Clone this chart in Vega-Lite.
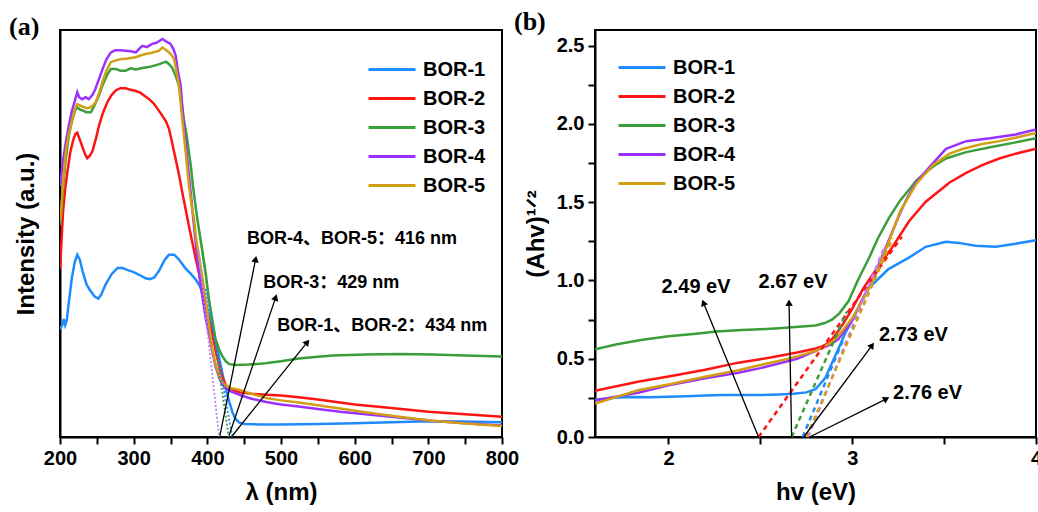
{
  "$schema": "https://vega.github.io/schema/vega-lite/v6.json",
  "background": "white",
  "padding": {"left": 8, "top": 8, "right": 0, "bottom": 0},
  "bounds": "flush",
  "spacing": 93,
  "config": {
    "font": "Liberation Sans",
    "view": {"stroke": "black", "strokeWidth": 2},
    "axis": {"domainColor": "black", "domainWidth": 2, "tickColor": "black", "tickWidth": 2, "tickSize": 7,
      "labelFont": "Liberation Sans", "labelFontSize": 20, "labelFontWeight": "bold", "labelColor": "black",
      "titleFont": "Liberation Sans", "titleFontSize": 24, "titleFontWeight": "bold", "titleColor": "black",
      "grid": false, "labelPadding": 4, "labelFlush": false, "labelOverlap": false, "labelBound": false},
    "legend": {"labelFont": "Liberation Sans", "labelFontSize": 20, "labelFontWeight": "bold", "labelColor": "black",
      "symbolType": "M-2.35,0H2.35", "symbolStrokeWidth": 3, "symbolSize": 400, "rowPadding": 7, "labelOffset": 19.5, "padding": 0}
  },
  "resolve": {"legend": {"color": "independent"}},
  "datasets": {
    "a": [
      {"series":"BOR-1","x":200,"y":26.5},{"series":"BOR-1","x":203,"y":27.5},{"series":"BOR-1","x":205,"y":29},{"series":"BOR-1","x":207,"y":27.5},{"series":"BOR-1","x":209,"y":28.5},{"series":"BOR-1","x":212,"y":33},{"series":"BOR-1","x":216,"y":39},{"series":"BOR-1","x":220,"y":43},{"series":"BOR-1","x":223.5,"y":44.8},{"series":"BOR-1","x":227,"y":43.5},{"series":"BOR-1","x":231,"y":40.5},{"series":"BOR-1","x":236,"y":37.5},{"series":"BOR-1","x":241,"y":36},{"series":"BOR-1","x":247,"y":34.5},{"series":"BOR-1","x":252,"y":34},{"series":"BOR-1","x":256,"y":35},{"series":"BOR-1","x":262,"y":37.5},{"series":"BOR-1","x":270,"y":40},{"series":"BOR-1","x":278,"y":41.5},{"series":"BOR-1","x":285,"y":41.5},{"series":"BOR-1","x":292,"y":41},{"series":"BOR-1","x":300,"y":40.5},{"series":"BOR-1","x":308,"y":39.8},{"series":"BOR-1","x":316,"y":39},{"series":"BOR-1","x":322,"y":38.8},{"series":"BOR-1","x":328,"y":39.2},{"series":"BOR-1","x":335,"y":41},{"series":"BOR-1","x":342,"y":43.5},{"series":"BOR-1","x":348,"y":44.8},{"series":"BOR-1","x":355,"y":44.8},{"series":"BOR-1","x":362,"y":43.5},{"series":"BOR-1","x":370,"y":41.5},{"series":"BOR-1","x":378,"y":40},{"series":"BOR-1","x":385,"y":38.5},{"series":"BOR-1","x":390,"y":37},{"series":"BOR-1","x":395,"y":34.5},{"series":"BOR-1","x":400,"y":31.5},{"series":"BOR-1","x":405,"y":28},{"series":"BOR-1","x":410,"y":24.5},{"series":"BOR-1","x":416,"y":19.5},{"series":"BOR-1","x":420,"y":16},{"series":"BOR-1","x":425,"y":11.8},{"series":"BOR-1","x":430,"y":8.5},{"series":"BOR-1","x":434,"y":6.1},{"series":"BOR-1","x":438,"y":4.5},{"series":"BOR-1","x":443,"y":3.6},{"series":"BOR-1","x":450,"y":3.2},{"series":"BOR-1","x":470,"y":3.1},{"series":"BOR-1","x":500,"y":3.1},{"series":"BOR-1","x":550,"y":3.2},{"series":"BOR-1","x":600,"y":3.4},{"series":"BOR-1","x":650,"y":3.6},{"series":"BOR-1","x":700,"y":3.9},{"series":"BOR-1","x":750,"y":3.8},{"series":"BOR-1","x":800,"y":3.6},
      {"series":"BOR-2","x":200,"y":41.3},{"series":"BOR-2","x":202,"y":48},{"series":"BOR-2","x":204,"y":55},{"series":"BOR-2","x":207,"y":61},{"series":"BOR-2","x":210,"y":65},{"series":"BOR-2","x":214,"y":70},{"series":"BOR-2","x":218,"y":73},{"series":"BOR-2","x":221,"y":74.5},{"series":"BOR-2","x":223.5,"y":74.8},{"series":"BOR-2","x":226,"y":73.5},{"series":"BOR-2","x":230,"y":71.5},{"series":"BOR-2","x":234,"y":69.5},{"series":"BOR-2","x":237,"y":68.5},{"series":"BOR-2","x":240,"y":69},{"series":"BOR-2","x":244,"y":70.2},{"series":"BOR-2","x":249,"y":73.5},{"series":"BOR-2","x":253,"y":76.5},{"series":"BOR-2","x":258,"y":79.5},{"series":"BOR-2","x":264,"y":82.2},{"series":"BOR-2","x":270,"y":84},{"series":"BOR-2","x":276,"y":85.2},{"series":"BOR-2","x":282,"y":85.7},{"series":"BOR-2","x":289,"y":85.7},{"series":"BOR-2","x":296,"y":85.3},{"series":"BOR-2","x":303,"y":85},{"series":"BOR-2","x":309,"y":84.6},{"series":"BOR-2","x":315,"y":83.8},{"series":"BOR-2","x":321,"y":83},{"series":"BOR-2","x":327,"y":82},{"series":"BOR-2","x":333,"y":80.5},{"series":"BOR-2","x":339,"y":78.9},{"series":"BOR-2","x":344,"y":77.5},{"series":"BOR-2","x":348,"y":75.7},{"series":"BOR-2","x":352,"y":72.5},{"series":"BOR-2","x":357,"y":68.3},{"series":"BOR-2","x":362,"y":64},{"series":"BOR-2","x":366,"y":60.1},{"series":"BOR-2","x":371,"y":55.5},{"series":"BOR-2","x":375,"y":51.9},{"series":"BOR-2","x":380,"y":47.5},{"series":"BOR-2","x":384,"y":44},{"series":"BOR-2","x":389,"y":40},{"series":"BOR-2","x":395,"y":34},{"series":"BOR-2","x":401,"y":29.5},{"series":"BOR-2","x":407,"y":25.2},{"series":"BOR-2","x":412,"y":20.5},{"series":"BOR-2","x":416,"y":17.5},{"series":"BOR-2","x":420,"y":15},{"series":"BOR-2","x":425,"y":12.8},{"series":"BOR-2","x":432,"y":11.8},{"series":"BOR-2","x":443,"y":11},{"series":"BOR-2","x":460,"y":10.6},{"series":"BOR-2","x":480,"y":10.4},{"series":"BOR-2","x":500,"y":10.2},{"series":"BOR-2","x":524,"y":9.75},{"series":"BOR-2","x":550,"y":9.2},{"series":"BOR-2","x":600,"y":8},{"series":"BOR-2","x":650,"y":7.1},{"series":"BOR-2","x":700,"y":6.2},{"series":"BOR-2","x":750,"y":5.6},{"series":"BOR-2","x":800,"y":5},
      {"series":"BOR-3","x":200,"y":52},{"series":"BOR-3","x":202,"y":56},{"series":"BOR-3","x":205,"y":63},{"series":"BOR-3","x":208,"y":68.5},{"series":"BOR-3","x":212,"y":74},{"series":"BOR-3","x":216,"y":77.5},{"series":"BOR-3","x":220,"y":80},{"series":"BOR-3","x":223.5,"y":81},{"series":"BOR-3","x":227,"y":80.5},{"series":"BOR-3","x":231,"y":80.2},{"series":"BOR-3","x":236,"y":79.8},{"series":"BOR-3","x":242,"y":79.8},{"series":"BOR-3","x":247,"y":81.5},{"series":"BOR-3","x":253,"y":84},{"series":"BOR-3","x":258,"y":86.5},{"series":"BOR-3","x":264,"y":89},{"series":"BOR-3","x":269,"y":90.4},{"series":"BOR-3","x":276,"y":90.4},{"series":"BOR-3","x":282,"y":90},{"series":"BOR-3","x":289,"y":90},{"series":"BOR-3","x":296,"y":90.6},{"series":"BOR-3","x":303,"y":90.3},{"series":"BOR-3","x":310,"y":90.6},{"series":"BOR-3","x":316,"y":90.8},{"series":"BOR-3","x":323,"y":91},{"series":"BOR-3","x":329,"y":91.3},{"series":"BOR-3","x":335,"y":91.6},{"series":"BOR-3","x":340,"y":92},{"series":"BOR-3","x":344,"y":92.2},{"series":"BOR-3","x":348,"y":91.6},{"series":"BOR-3","x":352,"y":90.8},{"series":"BOR-3","x":357,"y":88.8},{"series":"BOR-3","x":361.5,"y":86.3},{"series":"BOR-3","x":365,"y":82.5},{"series":"BOR-3","x":368,"y":78.1},{"series":"BOR-3","x":372,"y":74},{"series":"BOR-3","x":375,"y":70},{"series":"BOR-3","x":378,"y":66},{"series":"BOR-3","x":380.5,"y":61.7},{"series":"BOR-3","x":383.5,"y":57.5},{"series":"BOR-3","x":386.4,"y":53.6},{"series":"BOR-3","x":390,"y":49.5},{"series":"BOR-3","x":393,"y":46},{"series":"BOR-3","x":398,"y":40},{"series":"BOR-3","x":402,"y":34},{"series":"BOR-3","x":407,"y":28.5},{"series":"BOR-3","x":411,"y":24.1},{"series":"BOR-3","x":416,"y":21.5},{"series":"BOR-3","x":420,"y":20},{"series":"BOR-3","x":425,"y":18.6},{"series":"BOR-3","x":430,"y":17.9},{"series":"BOR-3","x":440,"y":17.7},{"series":"BOR-3","x":456,"y":17.8},{"series":"BOR-3","x":479,"y":18.1},{"series":"BOR-3","x":500,"y":18.6},{"series":"BOR-3","x":524,"y":19.3},{"series":"BOR-3","x":550,"y":19.7},{"series":"BOR-3","x":570,"y":20},{"series":"BOR-3","x":615,"y":20.3},{"series":"BOR-3","x":660,"y":20.4},{"series":"BOR-3","x":705,"y":20.3},{"series":"BOR-3","x":750,"y":20},{"series":"BOR-3","x":800,"y":19.8},
      {"series":"BOR-4","x":200,"y":61.7},{"series":"BOR-4","x":202,"y":64.5},{"series":"BOR-4","x":205,"y":69},{"series":"BOR-4","x":208,"y":72.5},{"series":"BOR-4","x":212,"y":76.5},{"series":"BOR-4","x":216,"y":80},{"series":"BOR-4","x":220,"y":82.5},{"series":"BOR-4","x":223.5,"y":84.7},{"series":"BOR-4","x":226,"y":83.5},{"series":"BOR-4","x":230,"y":83},{"series":"BOR-4","x":235,"y":83.5},{"series":"BOR-4","x":239,"y":83},{"series":"BOR-4","x":244,"y":84},{"series":"BOR-4","x":248,"y":85.5},{"series":"BOR-4","x":253,"y":88},{"series":"BOR-4","x":258,"y":90.5},{"series":"BOR-4","x":263,"y":92.8},{"series":"BOR-4","x":269,"y":94.5},{"series":"BOR-4","x":275,"y":95},{"series":"BOR-4","x":282,"y":95},{"series":"BOR-4","x":289,"y":94.9},{"series":"BOR-4","x":296,"y":94.8},{"series":"BOR-4","x":303,"y":94.5},{"series":"BOR-4","x":308,"y":95.5},{"series":"BOR-4","x":312,"y":96.1},{"series":"BOR-4","x":318,"y":95.8},{"series":"BOR-4","x":325,"y":96.6},{"series":"BOR-4","x":330,"y":96.8},{"series":"BOR-4","x":335,"y":97.3},{"series":"BOR-4","x":339,"y":97.8},{"series":"BOR-4","x":343,"y":97.3},{"series":"BOR-4","x":347,"y":96.9},{"series":"BOR-4","x":350,"y":96.6},{"series":"BOR-4","x":354,"y":95.3},{"series":"BOR-4","x":357,"y":93.7},{"series":"BOR-4","x":360,"y":90},{"series":"BOR-4","x":363.8,"y":86.3},{"series":"BOR-4","x":366,"y":81},{"series":"BOR-4","x":368.3,"y":76.5},{"series":"BOR-4","x":372.8,"y":68.3},{"series":"BOR-4","x":377.4,"y":60.1},{"series":"BOR-4","x":381.9,"y":51.9},{"series":"BOR-4","x":386.4,"y":43.7},{"series":"BOR-4","x":392,"y":36},{"series":"BOR-4","x":398,"y":29},{"series":"BOR-4","x":402,"y":25.5},{"series":"BOR-4","x":407,"y":20.8},{"series":"BOR-4","x":411,"y":17.5},{"series":"BOR-4","x":416,"y":14.6},{"series":"BOR-4","x":420,"y":13},{"series":"BOR-4","x":425,"y":12},{"series":"BOR-4","x":432,"y":11.2},{"series":"BOR-4","x":443,"y":10.4},{"series":"BOR-4","x":447.5,"y":10.1},{"series":"BOR-4","x":460,"y":9.4},{"series":"BOR-4","x":480,"y":8.6},{"series":"BOR-4","x":500,"y":8},{"series":"BOR-4","x":524,"y":7.5},{"series":"BOR-4","x":550,"y":6.9},{"series":"BOR-4","x":580,"y":6.2},{"series":"BOR-4","x":615,"y":5.6},{"series":"BOR-4","x":660,"y":4.8},{"series":"BOR-4","x":705,"y":4},{"series":"BOR-4","x":750,"y":3.4},{"series":"BOR-4","x":800,"y":2.8},
      {"series":"BOR-5","x":200,"y":53},{"series":"BOR-5","x":201,"y":54.4},{"series":"BOR-5","x":204,"y":62},{"series":"BOR-5","x":207.7,"y":70},{"series":"BOR-5","x":212,"y":74.5},{"series":"BOR-5","x":216.7,"y":78.1},{"series":"BOR-5","x":220,"y":80.5},{"series":"BOR-5","x":223.5,"y":81.8},{"series":"BOR-5","x":227,"y":81.5},{"series":"BOR-5","x":230.3,"y":81.2},{"series":"BOR-5","x":236,"y":80.8},{"series":"BOR-5","x":241.6,"y":81},{"series":"BOR-5","x":245,"y":81.5},{"series":"BOR-5","x":248.4,"y":82.2},{"series":"BOR-5","x":253,"y":84.5},{"series":"BOR-5","x":257.4,"y":87.1},{"series":"BOR-5","x":263,"y":90},{"series":"BOR-5","x":268.8,"y":92.1},{"series":"BOR-5","x":277,"y":92.6},{"series":"BOR-5","x":284.6,"y":92.9},{"series":"BOR-5","x":292,"y":93},{"series":"BOR-5","x":302.8,"y":93.3},{"series":"BOR-5","x":310,"y":93.8},{"series":"BOR-5","x":316.3,"y":94.1},{"series":"BOR-5","x":325,"y":94.4},{"series":"BOR-5","x":334.4,"y":94.9},{"series":"BOR-5","x":338.9,"y":95.7},{"series":"BOR-5","x":343,"y":95.2},{"series":"BOR-5","x":348,"y":94.5},{"series":"BOR-5","x":351,"y":93.9},{"series":"BOR-5","x":354.8,"y":92.9},{"series":"BOR-5","x":358,"y":90},{"series":"BOR-5","x":361.5,"y":86.3},{"series":"BOR-5","x":366,"y":78.1},{"series":"BOR-5","x":370.6,"y":70},{"series":"BOR-5","x":375.1,"y":61.7},{"series":"BOR-5","x":379,"y":56.5},{"series":"BOR-5","x":381.9,"y":53.6},{"series":"BOR-5","x":385,"y":48.5},{"series":"BOR-5","x":388.7,"y":44.5},{"series":"BOR-5","x":393,"y":39.5},{"series":"BOR-5","x":397.8,"y":33.9},{"series":"BOR-5","x":402,"y":28},{"series":"BOR-5","x":406.7,"y":21.6},{"series":"BOR-5","x":411,"y":18},{"series":"BOR-5","x":415.8,"y":15.1},{"series":"BOR-5","x":420,"y":13.6},{"series":"BOR-5","x":425,"y":12.6},{"series":"BOR-5","x":432,"y":12},{"series":"BOR-5","x":443,"y":11.6},{"series":"BOR-5","x":447.5,"y":11.4},{"series":"BOR-5","x":460,"y":10.6},{"series":"BOR-5","x":480,"y":9.6},{"series":"BOR-5","x":500,"y":9},{"series":"BOR-5","x":524,"y":8.5},{"series":"BOR-5","x":550,"y":7.8},{"series":"BOR-5","x":580,"y":7},{"series":"BOR-5","x":615,"y":6.1},{"series":"BOR-5","x":660,"y":5},{"series":"BOR-5","x":705,"y":4},{"series":"BOR-5","x":750,"y":3.3},{"series":"BOR-5","x":800,"y":2.7}
    ],
    "aTan": [
      {"series":"BOR-4","x":388,"y":46},{"series":"BOR-4","x":416,"y":0},
      {"series":"BOR-3","x":390,"y":49},{"series":"BOR-3","x":429,"y":0},
      {"series":"BOR-1","x":397.8,"y":36.4},{"series":"BOR-1","x":434,"y":0}
    ],
    "aArr": [
      {"x":417,"y":0.3,"x2":465.6,"y2":43.7},
      {"x":429.4,"y":0.3,"x2":492.8,"y2":34.3},
      {"x":433.9,"y":0.3,"x2":535.7,"y2":23.3}
    ],
    "aLab": [
      {"text":"BOR-4、BOR-5：416 nm","x":453.8,"y":48.6},
      {"text":"BOR-3：429 nm","x":476,"y":37.8},
      {"text":"BOR-1、BOR-2：434 nm","x":495,"y":27.3}
    ],
    "b": [
      {"series":"BOR-1","x":1.6,"y":0.238},{"series":"BOR-1","x":1.7,"y":0.25},{"series":"BOR-1","x":1.8,"y":0.255},{"series":"BOR-1","x":1.9,"y":0.254},{"series":"BOR-1","x":2.0,"y":0.257},{"series":"BOR-1","x":2.1,"y":0.26},{"series":"BOR-1","x":2.2,"y":0.265},{"series":"BOR-1","x":2.3,"y":0.268},{"series":"BOR-1","x":2.4,"y":0.268},{"series":"BOR-1","x":2.5,"y":0.268},{"series":"BOR-1","x":2.6,"y":0.272},{"series":"BOR-1","x":2.68,"y":0.276},{"series":"BOR-1","x":2.75,"y":0.285},{"series":"BOR-1","x":2.8,"y":0.305},{"series":"BOR-1","x":2.853,"y":0.377},{"series":"BOR-1","x":2.908,"y":0.52},{"series":"BOR-1","x":2.962,"y":0.663},{"series":"BOR-1","x":3.016,"y":0.786},{"series":"BOR-1","x":3.089,"y":0.95},{"series":"BOR-1","x":3.197,"y":1.073},{"series":"BOR-1","x":3.306,"y":1.144},{"series":"BOR-1","x":3.4,"y":1.215},{"series":"BOR-1","x":3.51,"y":1.247},{"series":"BOR-1","x":3.58,"y":1.24},{"series":"BOR-1","x":3.67,"y":1.222},{"series":"BOR-1","x":3.78,"y":1.215},{"series":"BOR-1","x":3.89,"y":1.235},{"series":"BOR-1","x":4.0,"y":1.257},
      {"series":"BOR-2","x":1.6,"y":0.295},{"series":"BOR-2","x":1.84,"y":0.355},{"series":"BOR-2","x":2.0,"y":0.387},{"series":"BOR-2","x":2.2,"y":0.43},{"series":"BOR-2","x":2.38,"y":0.475},{"series":"BOR-2","x":2.5,"y":0.497},{"series":"BOR-2","x":2.6,"y":0.518},{"series":"BOR-2","x":2.7,"y":0.54},{"series":"BOR-2","x":2.8,"y":0.565},{"series":"BOR-2","x":2.84,"y":0.58},{"series":"BOR-2","x":2.88,"y":0.61},{"series":"BOR-2","x":2.92,"y":0.67},{"series":"BOR-2","x":2.96,"y":0.74},{"series":"BOR-2","x":3.0,"y":0.82},{"series":"BOR-2","x":3.06,"y":0.95},{"series":"BOR-2","x":3.13,"y":1.07},{"series":"BOR-2","x":3.22,"y":1.216},{"series":"BOR-2","x":3.31,"y":1.38},{"series":"BOR-2","x":3.4,"y":1.503},{"series":"BOR-2","x":3.53,"y":1.626},{"series":"BOR-2","x":3.62,"y":1.687},{"series":"BOR-2","x":3.71,"y":1.738},{"series":"BOR-2","x":3.8,"y":1.779},{"series":"BOR-2","x":3.89,"y":1.81},{"series":"BOR-2","x":4.0,"y":1.841},
      {"series":"BOR-3","x":1.6,"y":0.561},{"series":"BOR-3","x":1.72,"y":0.592},{"series":"BOR-3","x":1.85,"y":0.62},{"series":"BOR-3","x":2.0,"y":0.643},{"series":"BOR-3","x":2.15,"y":0.66},{"series":"BOR-3","x":2.26,"y":0.674},{"series":"BOR-3","x":2.4,"y":0.683},{"series":"BOR-3","x":2.5,"y":0.688},{"series":"BOR-3","x":2.6,"y":0.695},{"series":"BOR-3","x":2.71,"y":0.705},{"series":"BOR-3","x":2.8,"y":0.713},{"series":"BOR-3","x":2.85,"y":0.728},{"series":"BOR-3","x":2.89,"y":0.75},{"series":"BOR-3","x":2.93,"y":0.79},{"series":"BOR-3","x":2.98,"y":0.868},{"series":"BOR-3","x":3.03,"y":1.0},{"series":"BOR-3","x":3.09,"y":1.14},{"series":"BOR-3","x":3.14,"y":1.27},{"series":"BOR-3","x":3.2,"y":1.4},{"series":"BOR-3","x":3.26,"y":1.51},{"series":"BOR-3","x":3.35,"y":1.64},{"series":"BOR-3","x":3.44,"y":1.728},{"series":"BOR-3","x":3.51,"y":1.779},{"series":"BOR-3","x":3.62,"y":1.82},{"series":"BOR-3","x":3.75,"y":1.851},{"series":"BOR-3","x":3.89,"y":1.882},{"series":"BOR-3","x":4.0,"y":1.908},
      {"series":"BOR-4","x":1.6,"y":0.233},{"series":"BOR-4","x":1.84,"y":0.284},{"series":"BOR-4","x":2.0,"y":0.33},{"series":"BOR-4","x":2.2,"y":0.375},{"series":"BOR-4","x":2.38,"y":0.41},{"series":"BOR-4","x":2.5,"y":0.44},{"series":"BOR-4","x":2.6,"y":0.47},{"series":"BOR-4","x":2.7,"y":0.5},{"series":"BOR-4","x":2.82,"y":0.56},{"series":"BOR-4","x":2.88,"y":0.59},{"series":"BOR-4","x":2.925,"y":0.625},{"series":"BOR-4","x":2.96,"y":0.68},{"series":"BOR-4","x":3.0,"y":0.745},{"series":"BOR-4","x":3.05,"y":0.868},{"series":"BOR-4","x":3.1,"y":0.98},{"series":"BOR-4","x":3.15,"y":1.12},{"series":"BOR-4","x":3.2,"y":1.26},{"series":"BOR-4","x":3.26,"y":1.43},{"series":"BOR-4","x":3.3,"y":1.53},{"series":"BOR-4","x":3.35,"y":1.63},{"series":"BOR-4","x":3.44,"y":1.75},{"series":"BOR-4","x":3.51,"y":1.841},{"series":"BOR-4","x":3.62,"y":1.89},{"series":"BOR-4","x":3.75,"y":1.908},{"series":"BOR-4","x":3.89,"y":1.933},{"series":"BOR-4","x":4.0,"y":1.964},
      {"series":"BOR-5","x":1.6,"y":0.213},{"series":"BOR-5","x":1.84,"y":0.3},{"series":"BOR-5","x":2.0,"y":0.336},{"series":"BOR-5","x":2.2,"y":0.385},{"series":"BOR-5","x":2.38,"y":0.426},{"series":"BOR-5","x":2.5,"y":0.46},{"series":"BOR-5","x":2.6,"y":0.485},{"series":"BOR-5","x":2.7,"y":0.515},{"series":"BOR-5","x":2.8,"y":0.55},{"series":"BOR-5","x":2.835,"y":0.57},{"series":"BOR-5","x":2.88,"y":0.6},{"series":"BOR-5","x":2.92,"y":0.64},{"series":"BOR-5","x":2.96,"y":0.7},{"series":"BOR-5","x":3.0,"y":0.76},{"series":"BOR-5","x":3.05,"y":0.86},{"series":"BOR-5","x":3.1,"y":0.97},{"series":"BOR-5","x":3.15,"y":1.1},{"series":"BOR-5","x":3.2,"y":1.25},{"series":"BOR-5","x":3.26,"y":1.44},{"series":"BOR-5","x":3.35,"y":1.62},{"series":"BOR-5","x":3.44,"y":1.738},{"series":"BOR-5","x":3.53,"y":1.81},{"series":"BOR-5","x":3.6,"y":1.84},{"series":"BOR-5","x":3.7,"y":1.87},{"series":"BOR-5","x":3.8,"y":1.89},{"series":"BOR-5","x":3.9,"y":1.915},{"series":"BOR-5","x":4.0,"y":1.943}
    ],
    "bTan": [
      {"series":"BOR-2","x":2.49,"y":0},{"series":"BOR-2","x":3.27,"y":1.28},
      {"series":"BOR-3","x":2.67,"y":0},{"series":"BOR-3","x":2.97,"y":0.8},
      {"series":"BOR-1","x":2.73,"y":0},{"series":"BOR-1","x":2.95,"y":0.62},
      {"series":"BOR-4","x":2.76,"y":0},{"series":"BOR-4","x":3.17,"y":1.2},
      {"series":"BOR-5","x":2.75,"y":0},{"series":"BOR-5","x":3.22,"y":1.27}
    ],
    "bArr": [
      {"x":2.49,"y":0,"x2":2.19,"y2":0.858},
      {"x":2.67,"y":0,"x2":2.656,"y2":0.858},
      {"x":2.736,"y":0,"x2":3.108,"y2":0.586},
      {"x":2.768,"y":0,"x2":3.186,"y2":0.244}
    ],
    "bLab": [
      {"text":"2.49 eV","x":2.15,"y":0.96},
      {"text":"2.67 eV","x":2.678,"y":0.99},
      {"text":"2.73 eV","x":3.333,"y":0.653},
      {"text":"2.76 eV","x":3.41,"y":0.278}
    ]
  },
  "hconcat": [
    {
      "width": 442,
      "height": 407,
      "title": {"text": "(a)", "anchor": "start", "frame": "group", "dx": -51, "offset": -36, "baseline": "bottom", "font": "Liberation Serif", "fontSize": 26, "fontWeight": "bold", "color": "black"},
      "layer": [
        {
          "data": {"name": "a"},
          "mark": {"type": "line", "strokeWidth": 2.5, "clip": true},
          "encoding": {
            "x": {"field": "x", "type": "quantitative", "scale": {"domain": [200, 800]},
              "axis": {"title": "λ (nm)", "values": [200,250,300,350,400,450,500,550,600,650,700,750,800], "labelExpr": "datum.value % 100 == 0 ? datum.label : ''", "titlePadding": 12}},
            "y": {"field": "y", "type": "quantitative", "scale": {"domain": [0, 100]},
              "axis": {"title": "Intensity (a.u.)", "labels": false, "ticks": false, "titlePadding": 22}},
            "color": {"field": "series", "type": "nominal",
              "scale": {"domain": ["BOR-1","BOR-2","BOR-3","BOR-4","BOR-5"], "range": ["#1E8CFF","#FF1414","#3A9E3A","#9B30FF","#D19E14"]},
              "legend": {"orient": "none", "legendX": 320.5, "legendY": 28, "title": null}}
          }
        },
        {
          "data": {"name": "aTan"},
          "mark": {"type": "line", "strokeWidth": 1.8, "strokeDash": [2, 2]},
          "encoding": {
            "x": {"field": "x", "type": "quantitative",
              "axis": {"title": "λ (nm)", "values": [200,250,300,350,400,450,500,550,600,650,700,750,800], "labelExpr": "datum.value % 100 == 0 ? datum.label : ''", "titlePadding": 12}},
            "y": {"field": "y", "type": "quantitative",
              "axis": {"title": "Intensity (a.u.)", "labels": false, "ticks": false, "titlePadding": 22}},
            "detail": {"field": "series"},
            "stroke": {"field": "series", "type": "nominal",
              "scale": {"domain": ["BOR-1","BOR-2","BOR-3","BOR-4","BOR-5"], "range": ["#1E8CFF","#FF1414","#3A9E3A","#C080FF","#D19E14"]}, "legend": null}
          }
        },
        {
          "data": {"name": "aArr"},
          "mark": {"type": "rule", "color": "black", "strokeWidth": 1.3},
          "encoding": {
            "x": {"field": "x", "type": "quantitative",
              "axis": {"title": "λ (nm)", "values": [200,250,300,350,400,450,500,550,600,650,700,750,800], "labelExpr": "datum.value % 100 == 0 ? datum.label : ''", "titlePadding": 12}},
            "y": {"field": "y", "type": "quantitative",
              "axis": {"title": "Intensity (a.u.)", "labels": false, "ticks": false, "titlePadding": 22}},
            "x2": {"field": "x2"},
            "y2": {"field": "y2"}
          }
        },
        {
          "data": {"name": "aArr"},
          "transform": [{"calculate": "atan2((datum.x2 - datum.x) * 0.7367, (datum.y2 - datum.y) * 4.07) * 180 / PI", "as": "angle"}],
          "mark": {"type": "point", "shape": "triangle-up", "filled": true, "color": "black", "size": 55, "opacity": 1},
          "encoding": {
            "x": {"field": "x2", "type": "quantitative",
              "axis": {"title": "λ (nm)", "values": [200,250,300,350,400,450,500,550,600,650,700,750,800], "labelExpr": "datum.value % 100 == 0 ? datum.label : ''", "titlePadding": 12}},
            "y": {"field": "y2", "type": "quantitative",
              "axis": {"title": "Intensity (a.u.)", "labels": false, "ticks": false, "titlePadding": 22}},
            "angle": {"field": "angle", "type": "quantitative", "scale": null}
          }
        },
        {
          "data": {"name": "aLab"},
          "mark": {"type": "text", "align": "left", "baseline": "middle", "font": "Liberation Sans, Noto Sans CJK SC", "fontSize": 18, "fontWeight": "bold", "color": "black"},
          "encoding": {
            "x": {"field": "x", "type": "quantitative",
              "axis": {"title": "λ (nm)", "values": [200,250,300,350,400,450,500,550,600,650,700,750,800], "labelExpr": "datum.value % 100 == 0 ? datum.label : ''", "titlePadding": 12}},
            "y": {"field": "y", "type": "quantitative",
              "axis": {"title": "Intensity (a.u.)", "labels": false, "ticks": false, "titlePadding": 22}},
            "text": {"field": "text"}
          }
        }
      ]
    },
    {
      "width": 441,
      "height": 407,
      "title": {"text": "(b)", "anchor": "start", "frame": "group", "dx": -81, "offset": -31, "baseline": "bottom", "font": "Liberation Serif", "fontSize": 26, "fontWeight": "bold", "color": "black"},
      "layer": [
        {
          "data": {"name": "b"},
          "mark": {"type": "line", "strokeWidth": 2.5, "clip": true},
          "encoding": {
            "x": {"field": "x", "type": "quantitative", "scale": {"domain": [1.6, 4]},
              "axis": {"title": "hv (eV)", "values": [2, 2.5, 3, 3.5, 4], "format": ".0f", "labelExpr": "datum.value % 1 == 0 ? datum.label : ''", "titlePadding": 12}},
            "y": {"field": "y", "type": "quantitative", "scale": {"domain": [0, 2.5]},
              "axis": {"title": "(Ahv)¹ᐟ²", "values": [0,0.25,0.5,0.75,1,1.25,1.5,1.75,2,2.25,2.5], "format": ".1f", "labelExpr": "round(datum.value * 4) % 2 == 0 ? datum.label : ''", "titlePadding": 8}},
            "color": {"field": "series", "type": "nominal",
              "scale": {"domain": ["BOR-1","BOR-2","BOR-3","BOR-4","BOR-5"], "range": ["#1E8CFF","#FF1414","#3A9E3A","#9B30FF","#D19E14"]},
              "legend": {"orient": "none", "legendX": 35.5, "legendY": 26, "title": null}}
          }
        },
        {
          "data": {"name": "bTan"},
          "mark": {"type": "line", "strokeWidth": 2.5, "strokeDash": [5, 4]},
          "encoding": {
            "x": {"field": "x", "type": "quantitative",
              "axis": {"title": "hv (eV)", "values": [2, 2.5, 3, 3.5, 4], "format": ".0f", "labelExpr": "datum.value % 1 == 0 ? datum.label : ''", "titlePadding": 12}},
            "y": {"field": "y", "type": "quantitative",
              "axis": {"title": "(Ahv)¹ᐟ²", "values": [0,0.25,0.5,0.75,1,1.25,1.5,1.75,2,2.25,2.5], "format": ".1f", "labelExpr": "round(datum.value * 4) % 2 == 0 ? datum.label : ''", "titlePadding": 8}},
            "detail": {"field": "series"},
            "stroke": {"field": "series", "type": "nominal",
              "scale": {"domain": ["BOR-1","BOR-2","BOR-3","BOR-4","BOR-5"], "range": ["#1E8CFF","#FF1414","#3A9E3A","#9B30FF","#D19E14"]}, "legend": null}
          }
        },
        {
          "data": {"name": "bArr"},
          "mark": {"type": "rule", "color": "black", "strokeWidth": 1.3},
          "encoding": {
            "x": {"field": "x", "type": "quantitative",
              "axis": {"title": "hv (eV)", "values": [2, 2.5, 3, 3.5, 4], "format": ".0f", "labelExpr": "datum.value % 1 == 0 ? datum.label : ''", "titlePadding": 12}},
            "y": {"field": "y", "type": "quantitative",
              "axis": {"title": "(Ahv)¹ᐟ²", "values": [0,0.25,0.5,0.75,1,1.25,1.5,1.75,2,2.25,2.5], "format": ".1f", "labelExpr": "round(datum.value * 4) % 2 == 0 ? datum.label : ''", "titlePadding": 8}},
            "x2": {"field": "x2"},
            "y2": {"field": "y2"}
          }
        },
        {
          "data": {"name": "bArr"},
          "transform": [{"calculate": "atan2((datum.x2 - datum.x) * 184, (datum.y2 - datum.y) * 162.8) * 180 / PI", "as": "angle"}],
          "mark": {"type": "point", "shape": "triangle-up", "filled": true, "color": "black", "size": 55, "opacity": 1},
          "encoding": {
            "x": {"field": "x2", "type": "quantitative",
              "axis": {"title": "hv (eV)", "values": [2, 2.5, 3, 3.5, 4], "format": ".0f", "labelExpr": "datum.value % 1 == 0 ? datum.label : ''", "titlePadding": 12}},
            "y": {"field": "y2", "type": "quantitative",
              "axis": {"title": "(Ahv)¹ᐟ²", "values": [0,0.25,0.5,0.75,1,1.25,1.5,1.75,2,2.25,2.5], "format": ".1f", "labelExpr": "round(datum.value * 4) % 2 == 0 ? datum.label : ''", "titlePadding": 8}},
            "angle": {"field": "angle", "type": "quantitative", "scale": null}
          }
        },
        {
          "data": {"name": "bLab"},
          "mark": {"type": "text", "align": "center", "baseline": "middle", "font": "Liberation Sans", "fontSize": 20, "fontWeight": "bold", "color": "black"},
          "encoding": {
            "x": {"field": "x", "type": "quantitative",
              "axis": {"title": "hv (eV)", "values": [2, 2.5, 3, 3.5, 4], "format": ".0f", "labelExpr": "datum.value % 1 == 0 ? datum.label : ''", "titlePadding": 12}},
            "y": {"field": "y", "type": "quantitative",
              "axis": {"title": "(Ahv)¹ᐟ²", "values": [0,0.25,0.5,0.75,1,1.25,1.5,1.75,2,2.25,2.5], "format": ".1f", "labelExpr": "round(datum.value * 4) % 2 == 0 ? datum.label : ''", "titlePadding": 8}},
            "text": {"field": "text"}
          }
        }
      ]
    }
  ]
}
